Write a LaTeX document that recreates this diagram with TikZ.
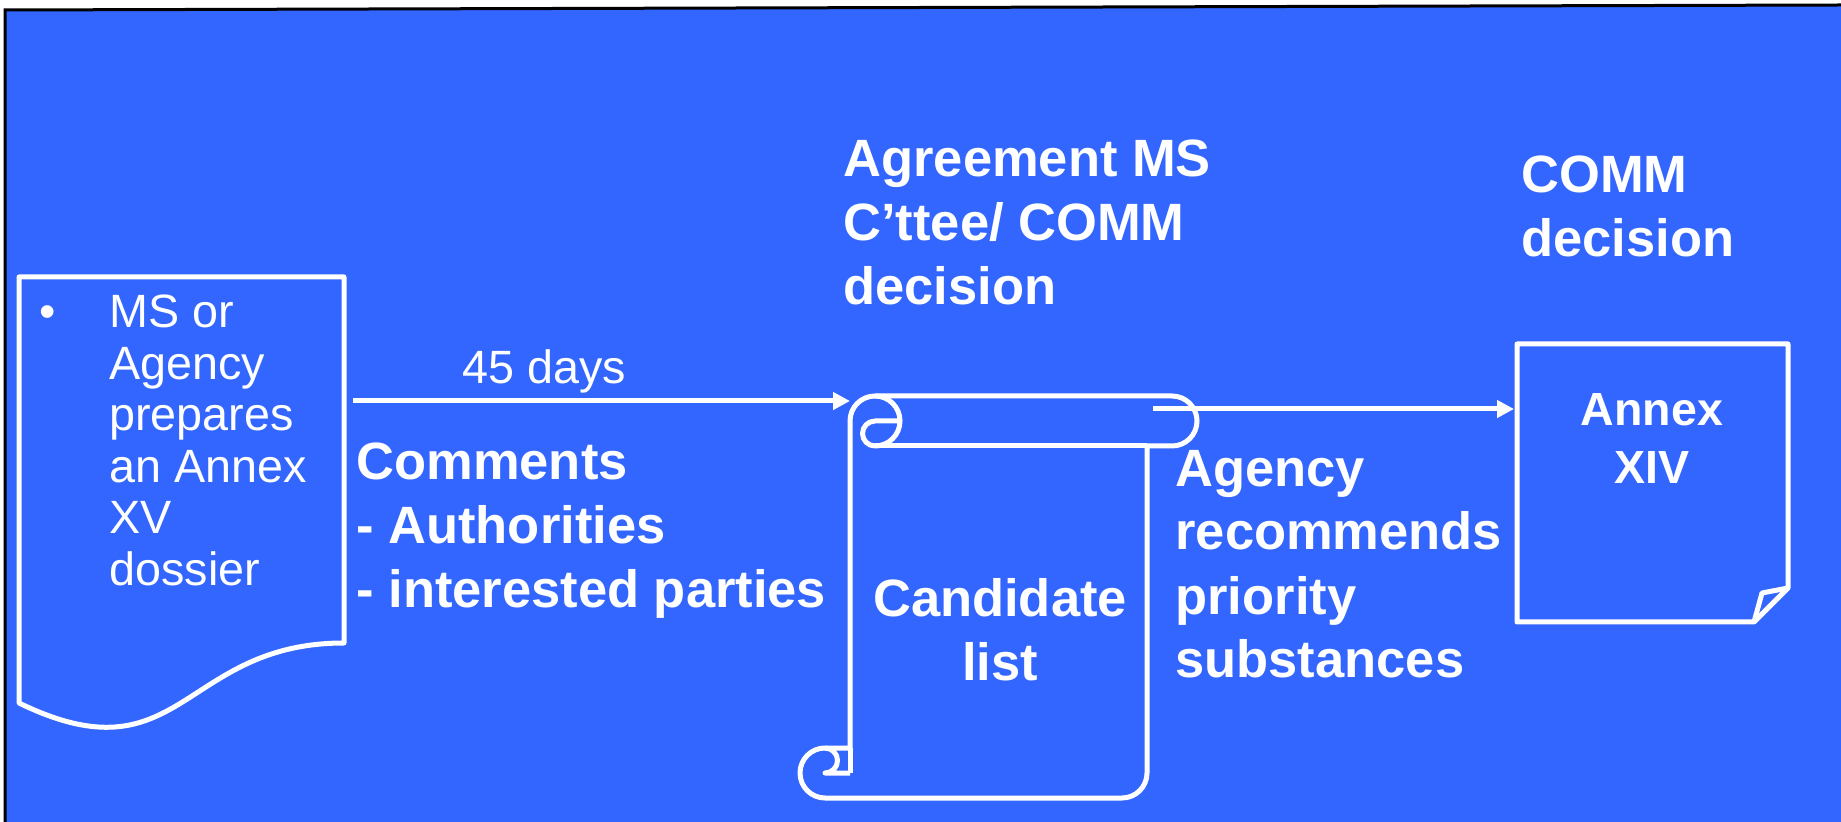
\documentclass[tikz,border=0pt]{standalone}
\usepackage{fontspec}
\setmainfont{Liberation Sans}
\usetikzlibrary{arrows.meta}
\definecolor{slideblue}{RGB}{51,102,255}
\begin{document}
\begin{tikzpicture}[x=0.5pt,y=-0.5pt,
  shapeline/.style={draw=white, line width=2.5pt, fill=slideblue, line join=round},
  curl/.style={draw=white, line width=2.5pt, line join=round},
  boldtxt/.style={text=white, font=\bfseries\fontsize{26.25}{32}\selectfont, align=left, inner sep=0pt, anchor=base west},
  regtxt/.style={text=white, font=\fontsize{23.35}{25.75}\selectfont, align=left, inner sep=0pt, anchor=base west},
  conn/.style={draw=white, line width=2.5pt, -{Triangle[length=8.5pt,width=8.5pt]}}]
\useasboundingbox (0,0) rectangle (1841,822);
\fill[white] (0,0) rectangle (1841,822);
\fill[slideblue] (5,10) -- (1841,5) -- (1841,822) -- (5,822) -- cycle;
\draw[black, line width=1.5pt] (5,822) -- (5,10) -- (1841,5);

% document shape
\draw[shapeline] (19,277) -- (344,277) -- (344,643)
  .. controls (181.5,643) and (181.5,782) .. (19,703) -- cycle;
\node[regtxt] (bullet) at (39,328) {•};
% base anchor of a multi-line node = baseline of its last line
\node[regtxt] (doctext) at (109,585.5) {MS or\\Agency\\prepares\\an Annex\\XV\\dossier};

% scroll shape
\draw[shapeline] (850,748) -- (850,421) arc[start angle=180, end angle=270, radius=25]
  -- (1172,396) arc[start angle=-90, end angle=90, radius=25]
  -- (1147,446) -- (1147,773) arc[start angle=0, end angle=90, radius=25]
  -- (825,798) arc[start angle=90, end angle=270, radius=25] -- cycle;
\draw[curl] (875,396) arc[start angle=-90, end angle=90, radius=25]
  arc[start angle=90, end angle=270, radius=12.5] -- (900,421);
\draw[curl] (1147,446) -- (875,446);
\draw[curl] (825,748) arc[start angle=-90, end angle=90, radius=12.5] -- (850,773);
\draw[curl] (850,748) -- (850,773);
\node[boldtxt, anchor=base, align=center] (cand) at (1000,681) {Candidate\\list};

% annex XIV shape
\draw[shapeline] (1517,344) -- (1788,344) -- (1788,588) -- (1754,622) -- (1517,622) -- cycle;
\draw[curl] (1754,622) -- (1762,593) -- (1788,588);
\node[inner sep=0pt, minimum width=135.5pt, minimum height=139pt, anchor=north west] (annex) at (1517,344) {};
\node[text=white, font=\bfseries\fontsize{23.25}{29}\selectfont, align=center, inner sep=0pt, anchor=base] (annextext) at (1652,484) {Annex\\XIV};

% labels
\node[regtxt] (days) at (462,384) {45 days};
\node[boldtxt] (comments) at (356,608) {Comments\\- Authorities\\- interested parties};
\node[boldtxt] (agree) at (843,305) {Agreement MS\\C’ttee/ COMM\\decision};
\node[boldtxt] (comm) at (1521,257) {COMM\\decision};
\node[boldtxt] (agency) at (1175,678) {Agency\\recommends\\priority\\substances};

% connectors
\coordinate (docout) at (353,401);
\coordinate (scrollin) at (850,401);
\coordinate (scrollout) at (1153,409);
\draw[conn] (docout) -- (scrollin);
\draw[conn, shorten >=1.5pt] (scrollout) -- (scrollout -| annex.west);
\end{tikzpicture}
\end{document}
